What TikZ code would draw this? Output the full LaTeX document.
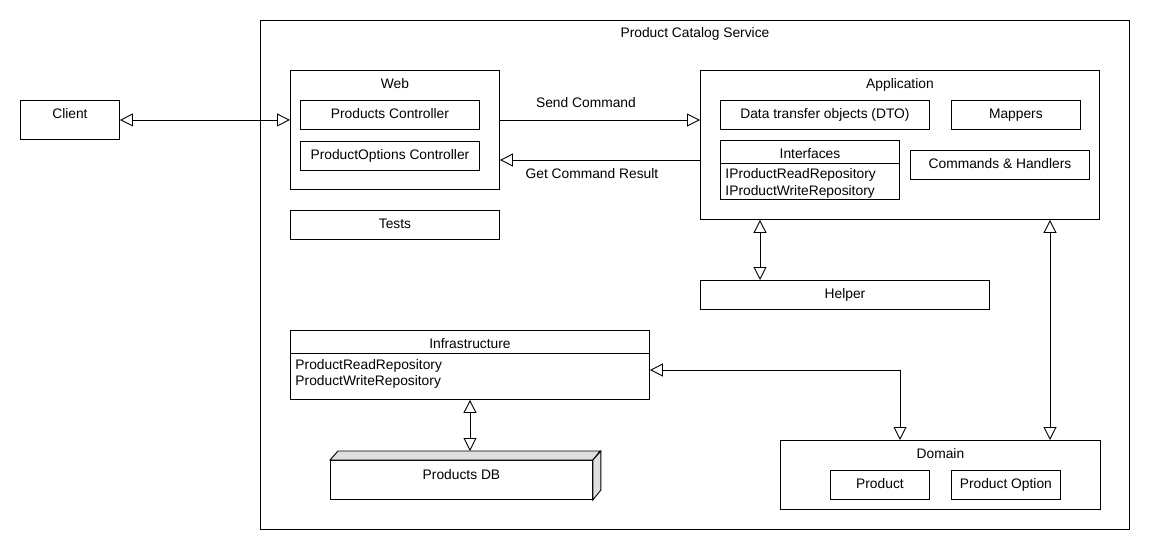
\documentclass[tikz,border=0pt]{standalone}
\usepackage{fontspec}
\setmainfont{Liberation Sans}
\usetikzlibrary{arrows.meta, positioning}

\begin{document}
\begin{tikzpicture}[x=1pt, y=-1pt, line width=0.9pt, font=\fontsize{13.8}{16}\selectfont,
    >={Triangle[open, length=13pt, width=13pt]},
    box/.style={draw, inner sep=0pt, minimum height=29pt, text height=9.8pt, text depth=2pt, anchor=north west},
    lbl/.style={inner sep=0pt, text height=9.8pt, text depth=0pt}]
    \useasboundingbox (0,0) rectangle (1150,550);

    \node[box, minimum width=869pt, minimum height=509pt] (pcs) at (260,20) {};
    \node[lbl, below=7pt of pcs.north] (pcstitle) {Product Catalog Service};

    \node[box, minimum width=99pt, minimum height=39pt] (client) at (20,100) {};
    \node[lbl, below=8pt of client.north] (clienttitle) {Client};

    % web layer
    \node[box, minimum width=209pt, minimum height=119pt] (web) at (290,70) {};
    \node[lbl, below=8pt of web.north] (webtitle) {Web};
    \node[box, minimum width=179pt] (pctrl) at (300,100) {Products Controller};
    \node[box, minimum width=179pt, below=11pt of pctrl] (poctrl) {ProductOptions Controller};
    \node[box, minimum width=209pt] (tests) at (290,210) {Tests};

    % application layer
    \node[box, minimum width=399pt, minimum height=149pt] (app) at (700,70) {};
    \node[lbl, below=8pt of app.north] (apptitle) {Application};
    \node[box, minimum width=209pt] (dto) at (720,100) {Data transfer objects (DTO)};
    \node[box, minimum width=129pt, right=21pt of dto] (mappers) {Mappers};
    \node[box, minimum width=179pt, minimum height=59pt] (ifc) at (720,140) {};
    \node[lbl, below=8pt of ifc.north] (ifctitle) {Interfaces};
    \draw ([yshift=-23pt]ifc.north west) -- ([yshift=-23pt]ifc.north east);
    \node[lbl, anchor=west] (iread) at ([xshift=5pt,yshift=-34pt]ifc.north west) {IProductReadRepository};
    \node[lbl, anchor=west] (iwrite) at ([xshift=5pt,yshift=-51pt]ifc.north west) {IProductWriteRepository};
    \node[box, minimum width=179pt] (cmds) at (910,150) {Commands \& Handlers};

    \node[box, minimum width=289pt] (helper) at (700,280) {Helper};

    % infrastructure layer
    \node[box, minimum width=359pt, minimum height=69pt] (infra) at (290,330) {};
    \node[lbl, below=8pt of infra.north] (infratitle) {Infrastructure};
    \draw ([yshift=-23pt]infra.north west) -- ([yshift=-23pt]infra.north east);
    \node[lbl, anchor=west] (pread) at ([xshift=5pt,yshift=-35pt]infra.north west) {ProductReadRepository};
    \node[lbl, anchor=west] (pwrite) at ([xshift=5pt,yshift=-51pt]infra.north west) {ProductWriteRepository};

    \node[box, minimum width=262pt, minimum height=39pt, text depth=10pt] (db) at (330,460) {Products DB};
    \draw[fill=gray!25] (db.north west) -- ++(8,-9) -- ++(262,0) -- (db.north east) -- cycle;
    \draw[fill=gray!25] (db.north east) -- ++(8,-9) -- ++(0,39) -- (db.south east) -- cycle;
    \coordinate (dbtop) at ([xshift=140pt,yshift=9pt]db.north west);

    % domain layer
    \node[box, minimum width=320pt, minimum height=69pt] (domain) at (780,440) {};
    \node[lbl, below=8pt of domain.north] (domaintitle) {Domain};
    \node[box, minimum width=99pt] (product) at (830,470) {Product};
    \node[box, minimum width=109pt, right=21pt of product] (poption) {Product Option};

    \draw[<->] (client.east) -- (client.east -| web.west);
    \draw[->] ([yshift=-50pt]web.north east) -- ([yshift=-50pt]web.north east -| app.west)
      node[lbl, pos=0.43, above=12pt] (sendlbl) {Send Command};
    \draw[->] ([yshift=-90pt]app.north west) -- ([yshift=-90pt]app.north west -| web.east)
      node[lbl, pos=0.54, below=8pt] (getlbl) {Get Command Result};
    \draw[<->] ([xshift=60pt]helper.north west) -- ([xshift=60pt]helper.north west |- app.south);
    \draw[<->] ([xshift=270pt]domain.north west) -- ([xshift=270pt]domain.north west |- app.south);
    \draw[<->] ([yshift=-40pt]infra.north east) -| ([xshift=120pt]domain.north west);
    \draw[<->] (dbtop) -- (dbtop |- infra.south);
  \end{tikzpicture}
\end{document}
